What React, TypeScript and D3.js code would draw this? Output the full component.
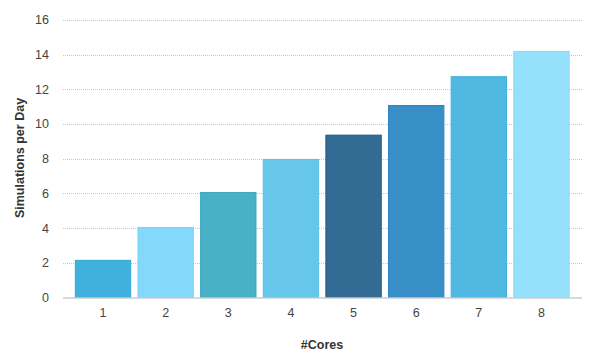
import React from "react";
import * as d3 from "d3";

const categories = ["1", "2", "3", "4", "5", "6", "7", "8"];
const values = [2.17, 4.07, 6.08, 7.99, 9.39, 11.1, 12.76, 14.22];
const colors = ["#3aaedb", "#80d8fb", "#42aec4", "#62c5ea", "#2b6690", "#328bc6", "#4ab6e0", "#92dffb"];
const strokes = ["#2fa6d6", "#78d4fa", "#38a8bf", "#58c0e8", "#1f5a86", "#2a84c2", "#40b0dd", "#88dafa"];
const yTicks = [0, 2, 4, 6, 8, 10, 12, 14, 16];
const xTitle = "#Cores";
const yTitle = "Simulations per Day";

export default function App() {
  const W = 600, H = 355;
  const gridL = 63, gridR = 582;
  const y = d3.scaleLinear().domain([0, 16]).range([297.5, 20]);
  const x = d3.scaleBand<string>().domain(categories).range([71.7, 572.8]).paddingInner(0.1).paddingOuter(0.05);
  const font = "Helvetica, Arial, 'Liberation Sans', sans-serif";
  return (
    <svg width={W} height={H} style={{ position: "absolute", left: 0, top: 0, background: "#fff" }} fontFamily={font}>
      {yTicks.map((t) => (
        <g key={t}>
          {t > 0 && (
            <line x1={gridL} x2={gridR} y1={Math.round(y(t)) + 0.5} y2={Math.round(y(t)) + 0.5} stroke="#c8c8c8" strokeWidth={1} strokeDasharray="1,1" />
          )}
          <text x={49} y={y(t)} dy="0.35em" textAnchor="end" fontSize={12.5} fill="#444">{t}</text>
        </g>
      ))}
      {categories.map((c, i) => {
        const top = y(values[i]);
        return (
          <rect key={c} x={x(c)! + 0.5} y={top + 0.5} width={x.bandwidth() - 1} height={y(0) - top - 0.5}
            fill={colors[i]} fillOpacity={0.97} stroke={strokes[i]} strokeWidth={1} />
        );
      })}
      <line x1={gridL} x2={gridR} y1={298} y2={298} stroke="#cccccc" strokeWidth={1.5} />
      {categories.map((c) => (
        <text key={c} x={x(c)! + x.bandwidth() / 2} y={313} dy="0.35em" textAnchor="middle" fontSize={12.5} fill="#444">{c}</text>
      ))}
      <text x={322} y={345} dy="0.35em" textAnchor="middle" fontSize={12.5} fontWeight="bold" fill="#333">{xTitle}</text>
      <text transform={`translate(20,158) rotate(-90)`} dy="0.35em" textAnchor="middle" fontSize={12.5} fontWeight="bold" fill="#333">{yTitle}</text>
    </svg>
  );
}
